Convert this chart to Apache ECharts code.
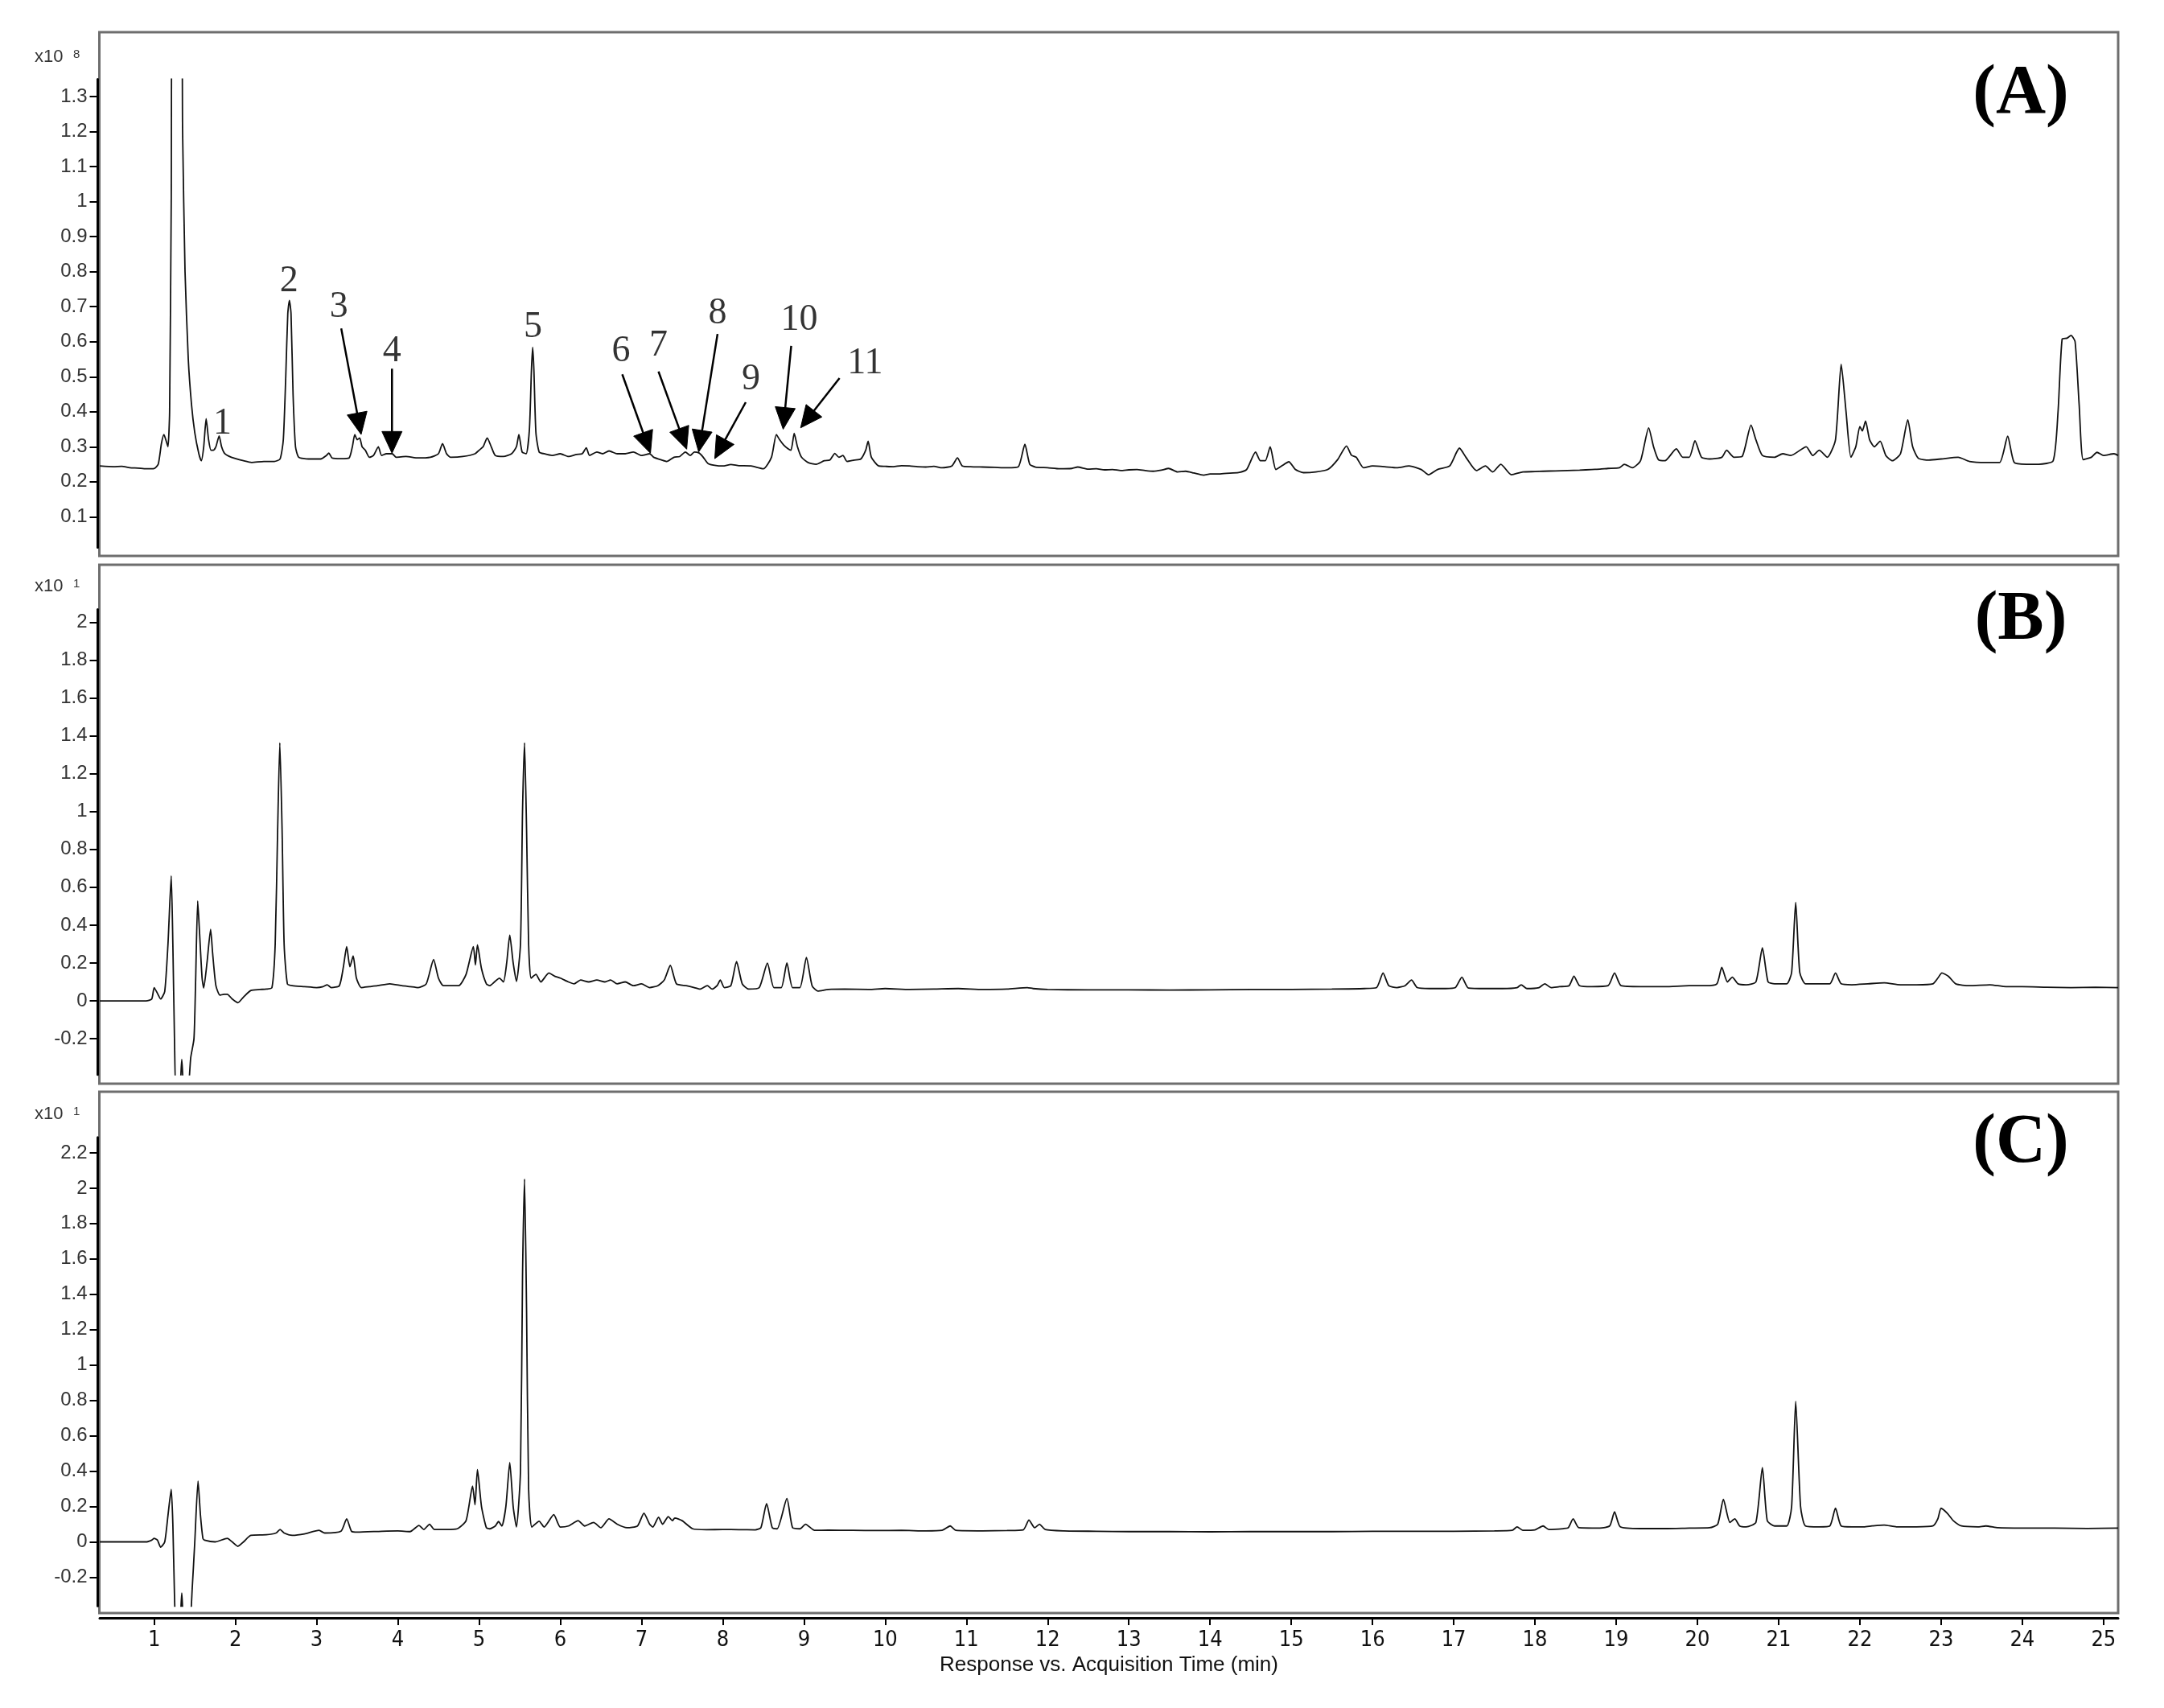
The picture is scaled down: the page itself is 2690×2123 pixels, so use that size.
<!DOCTYPE html>
<html><head><meta charset="utf-8">
<script src="https://cdn.jsdelivr.net/npm/echarts@6/dist/echarts.min.js"></script>
<style>html,body{margin:0;padding:0;background:#fff}#c{width:2690px;height:2123px}</style>
</head><body><div id="c"></div>
<script>
// ---------- data (time in min, response in axis units) ----------
const xTicks = [1,2,3,4,5,6,7,8,9,10,11,12,13,14,15,16,17,18,19,20,21,22,23,24,25];
const ticksA = [0.1,0.2,0.3,0.4,0.5,0.6,0.7,0.8,0.9,1,1.1,1.2,1.3];
const ticksB = [-0.2,0,0.2,0.4,0.6,0.8,1,1.2,1.4,1.6,1.8,2];
const ticksC = [-0.2,0,0.2,0.4,0.6,0.8,1,1.2,1.4,1.6,1.8,2,2.2];
const panelNames = ['(A)','(B)','(C)'];
const unitExp = ['8','1','1'];

const traceA = [[0.33,0.245],[0.5,0.243],[0.6,0.244],[0.7,0.24],[0.8,0.239],[0.9,0.237],[1.0,0.238],[1.05,0.25],[1.09,0.31],[1.12,0.335],[1.15,0.315],[1.17,0.30],[1.19,0.40],[1.21,1.0],[1.225,1.6],[1.33,1.6],[1.35,1.2],[1.38,0.8],[1.42,0.55],[1.46,0.42],[1.50,0.34],[1.55,0.28],[1.58,0.26],[1.61,0.30],[1.64,0.38],[1.67,0.32],[1.70,0.29],[1.73,0.29],[1.76,0.30],[1.80,0.331],[1.83,0.30],[1.87,0.28],[1.95,0.27],[2.1,0.26],[2.2,0.255],[2.35,0.258],[2.48,0.258],[2.55,0.265],[2.59,0.32],[2.62,0.50],[2.645,0.68],[2.665,0.718],[2.685,0.68],[2.71,0.45],[2.74,0.30],[2.78,0.27],[2.9,0.265],[3.05,0.265],[3.12,0.275],[3.15,0.282],[3.19,0.268],[3.3,0.266],[3.4,0.268],[3.44,0.30],[3.47,0.335],[3.50,0.32],[3.53,0.325],[3.56,0.30],[3.60,0.29],[3.65,0.27],[3.70,0.275],[3.76,0.30],[3.80,0.275],[3.86,0.28],[3.93,0.28],[3.98,0.27],[4.1,0.272],[4.25,0.268],[4.4,0.27],[4.5,0.28],[4.55,0.309],[4.60,0.28],[4.65,0.27],[4.8,0.272],[4.95,0.28],[5.0,0.29],[5.05,0.30],[5.1,0.325],[5.15,0.30],[5.2,0.275],[5.3,0.272],[5.4,0.28],[5.46,0.30],[5.49,0.335],[5.53,0.285],[5.58,0.28],[5.62,0.35],[5.645,0.52],[5.66,0.584],[5.675,0.52],[5.70,0.34],[5.74,0.285],[5.8,0.28],[5.9,0.275],[6.0,0.28],[6.1,0.272],[6.2,0.278],[6.27,0.28],[6.32,0.297],[6.36,0.275],[6.45,0.285],[6.52,0.28],[6.6,0.288],[6.7,0.28],[6.8,0.28],[6.9,0.285],[7.0,0.275],[7.1,0.28],[7.15,0.27],[7.25,0.262],[7.31,0.258],[7.4,0.27],[7.47,0.272],[7.54,0.285],[7.6,0.275],[7.65,0.285],[7.71,0.282],[7.76,0.27],[7.82,0.252],[7.9,0.247],[8.0,0.245],[8.1,0.249],[8.2,0.246],[8.35,0.245],[8.5,0.237],[8.6,0.27],[8.66,0.335],[8.70,0.32],[8.75,0.305],[8.80,0.295],[8.84,0.29],[8.88,0.338],[8.92,0.30],[8.97,0.27],[9.05,0.255],[9.15,0.25],[9.25,0.26],[9.32,0.262],[9.38,0.281],[9.43,0.27],[9.48,0.275],[9.53,0.258],[9.62,0.262],[9.7,0.265],[9.76,0.29],[9.79,0.316],[9.83,0.27],[9.92,0.245],[10.0,0.244],[10.1,0.243],[10.2,0.246],[10.3,0.245],[10.4,0.243],[10.5,0.242],[10.6,0.244],[10.7,0.24],[10.82,0.245],[10.89,0.268],[10.95,0.245],[11.05,0.243],[11.2,0.242],[11.35,0.241],[11.5,0.24],[11.64,0.243],[11.72,0.307],[11.78,0.25],[11.85,0.242],[12.0,0.24],[12.15,0.237],[12.3,0.238],[12.37,0.242],[12.5,0.236],[12.6,0.237],[12.7,0.234],[12.8,0.235],[12.9,0.232],[13.0,0.234],[13.1,0.235],[13.2,0.232],[13.3,0.23],[13.4,0.233],[13.49,0.238],[13.6,0.228],[13.7,0.23],[13.8,0.225],[13.92,0.219],[14.0,0.222],[14.1,0.222],[14.2,0.224],[14.35,0.226],[14.45,0.235],[14.56,0.285],[14.62,0.26],[14.68,0.26],[14.74,0.30],[14.81,0.235],[14.88,0.245],[14.97,0.257],[15.05,0.235],[15.15,0.226],[15.3,0.228],[15.45,0.235],[15.57,0.263],[15.68,0.302],[15.74,0.276],[15.8,0.27],[15.89,0.24],[16.0,0.245],[16.15,0.243],[16.3,0.24],[16.45,0.245],[16.6,0.235],[16.69,0.22],[16.8,0.235],[16.95,0.245],[17.07,0.296],[17.15,0.27],[17.28,0.232],[17.39,0.245],[17.48,0.228],[17.58,0.25],[17.71,0.22],[17.85,0.228],[18.0,0.229],[18.1,0.23],[18.25,0.231],[18.4,0.232],[18.55,0.233],[18.7,0.235],[18.8,0.236],[18.9,0.238],[19.04,0.24],[19.1,0.25],[19.2,0.24],[19.3,0.26],[19.4,0.354],[19.46,0.30],[19.52,0.263],[19.6,0.26],[19.74,0.294],[19.82,0.27],[19.9,0.27],[19.97,0.317],[20.05,0.27],[20.15,0.265],[20.3,0.27],[20.36,0.29],[20.45,0.27],[20.55,0.272],[20.66,0.362],[20.72,0.32],[20.8,0.275],[20.95,0.27],[21.05,0.28],[21.15,0.275],[21.34,0.30],[21.42,0.275],[21.5,0.29],[21.6,0.27],[21.7,0.32],[21.77,0.536],[21.83,0.40],[21.89,0.27],[21.95,0.30],[22.0,0.358],[22.03,0.345],[22.07,0.373],[22.12,0.32],[22.18,0.30],[22.25,0.316],[22.32,0.275],[22.4,0.26],[22.5,0.28],[22.59,0.377],[22.65,0.30],[22.72,0.267],[22.85,0.262],[23.0,0.265],[23.21,0.27],[23.35,0.258],[23.55,0.255],[23.72,0.255],[23.82,0.33],[23.9,0.255],[24.05,0.25],[24.2,0.25],[24.38,0.26],[24.44,0.4],[24.49,0.607],[24.55,0.61],[24.6,0.618],[24.65,0.60],[24.7,0.42],[24.75,0.263],[24.85,0.27],[24.92,0.284],[25.0,0.275],[25.13,0.28],[25.18,0.275]];

const traceB = [[0.33,0],[0.9,0],[0.97,0.01],[1.0,0.07],[1.04,0.04],[1.08,0.01],[1.13,0.05],[1.17,0.3],[1.21,0.66],[1.23,0.3],[1.25,-0.2],[1.27,-0.5],[1.31,-0.5],[1.34,-0.31],[1.37,-0.5],[1.41,-0.5],[1.45,-0.3],[1.49,-0.2],[1.51,0.1],[1.536,0.527],[1.56,0.35],[1.59,0.12],[1.61,0.068],[1.65,0.2],[1.695,0.378],[1.72,0.25],[1.76,0.08],[1.81,0.03],[1.86,0.035],[1.9,0.035],[1.96,0.01],[2.03,-0.01],[2.1,0.02],[2.19,0.055],[2.3,0.06],[2.38,0.062],[2.45,0.07],[2.49,0.3],[2.52,0.9],[2.547,1.363],[2.575,0.9],[2.6,0.3],[2.64,0.09],[2.7,0.08],[2.85,0.075],[3.0,0.07],[3.08,0.075],[3.13,0.085],[3.18,0.07],[3.28,0.08],[3.33,0.18],[3.37,0.286],[3.41,0.18],[3.45,0.237],[3.49,0.12],[3.55,0.07],[3.65,0.075],[3.75,0.08],[3.9,0.09],[4.05,0.08],[4.15,0.075],[4.25,0.07],[4.35,0.09],[4.44,0.218],[4.5,0.12],[4.56,0.08],[4.65,0.08],[4.75,0.08],[4.84,0.14],[4.93,0.286],[4.955,0.19],[4.98,0.296],[5.03,0.17],[5.09,0.09],[5.13,0.08],[5.19,0.1],[5.25,0.12],[5.3,0.1],[5.34,0.2],[5.378,0.347],[5.42,0.2],[5.46,0.103],[5.51,0.3],[5.535,1.0],[5.56,1.363],[5.585,0.9],[5.61,0.3],[5.64,0.12],[5.7,0.14],[5.76,0.1],[5.86,0.147],[5.93,0.13],[6.0,0.12],[6.1,0.1],[6.17,0.09],[6.25,0.11],[6.35,0.1],[6.45,0.11],[6.55,0.1],[6.62,0.11],[6.7,0.09],[6.8,0.1],[6.9,0.08],[7.0,0.09],[7.1,0.07],[7.2,0.08],[7.28,0.11],[7.355,0.187],[7.43,0.09],[7.55,0.08],[7.65,0.07],[7.72,0.062],[7.81,0.08],[7.87,0.062],[7.93,0.08],[7.97,0.11],[8.02,0.07],[8.1,0.08],[8.17,0.208],[8.24,0.09],[8.32,0.062],[8.45,0.07],[8.55,0.199],[8.63,0.07],[8.72,0.07],[8.79,0.2],[8.86,0.07],[8.95,0.07],[9.03,0.229],[9.1,0.08],[9.17,0.052],[9.3,0.06],[9.5,0.062],[9.8,0.06],[10.0,0.065],[10.3,0.06],[10.6,0.062],[10.9,0.065],[11.2,0.06],[11.5,0.062],[11.75,0.07],[11.82,0.065],[12.0,0.06],[12.5,0.058],[13.0,0.058],[13.5,0.057],[14.0,0.058],[14.5,0.06],[15.0,0.06],[15.5,0.062],[15.9,0.065],[16.05,0.07],[16.13,0.147],[16.2,0.08],[16.3,0.07],[16.4,0.08],[16.48,0.11],[16.55,0.07],[16.7,0.065],[16.9,0.065],[17.02,0.07],[17.1,0.125],[17.18,0.068],[17.4,0.065],[17.6,0.065],[17.78,0.07],[17.83,0.085],[17.9,0.065],[18.05,0.07],[18.12,0.09],[18.2,0.07],[18.3,0.075],[18.42,0.08],[18.48,0.13],[18.55,0.08],[18.7,0.075],[18.9,0.08],[18.98,0.147],[19.06,0.08],[19.3,0.075],[19.6,0.075],[19.9,0.08],[20.1,0.08],[20.24,0.09],[20.3,0.177],[20.37,0.1],[20.43,0.125],[20.5,0.09],[20.6,0.085],[20.72,0.1],[20.8,0.28],[20.87,0.1],[20.95,0.09],[21.1,0.09],[21.16,0.15],[21.21,0.52],[21.26,0.15],[21.33,0.09],[21.5,0.09],[21.63,0.09],[21.7,0.147],[21.77,0.09],[21.9,0.085],[22.1,0.09],[22.3,0.095],[22.5,0.085],[22.7,0.085],[22.9,0.09],[22.96,0.12],[23.01,0.147],[23.09,0.13],[23.18,0.09],[23.35,0.08],[23.6,0.085],[23.8,0.075],[24.0,0.075],[24.3,0.072],[24.6,0.07],[24.9,0.072],[25.18,0.07]];

const traceC = [[0.33,0],[0.9,0],[0.97,0.01],[1.0,0.02],[1.04,0.01],[1.08,-0.03],[1.13,0.0],[1.17,0.15],[1.21,0.297],[1.23,0.1],[1.25,-0.3],[1.27,-0.5],[1.31,-0.5],[1.34,-0.29],[1.37,-0.5],[1.43,-0.5],[1.47,-0.25],[1.5,0.0],[1.54,0.344],[1.57,0.15],[1.6,0.02],[1.62,0.01],[1.75,0.0],[1.9,0.02],[1.96,0.0],[2.03,-0.025],[2.1,0.0],[2.19,0.037],[2.38,0.04],[2.5,0.05],[2.55,0.07],[2.6,0.05],[2.7,0.037],[2.85,0.045],[3.03,0.065],[3.1,0.05],[3.3,0.06],[3.37,0.13],[3.43,0.06],[3.5,0.055],[3.8,0.06],[4.0,0.062],[4.15,0.058],[4.26,0.093],[4.32,0.07],[4.39,0.1],[4.45,0.07],[4.6,0.07],[4.73,0.074],[4.84,0.12],[4.92,0.316],[4.95,0.21],[4.98,0.409],[5.03,0.2],[5.09,0.08],[5.13,0.074],[5.2,0.09],[5.24,0.115],[5.28,0.09],[5.33,0.2],[5.378,0.449],[5.42,0.2],[5.46,0.084],[5.51,0.4],[5.535,1.5],[5.56,2.052],[5.585,1.3],[5.61,0.3],[5.65,0.084],[5.74,0.117],[5.8,0.084],[5.92,0.154],[6.0,0.084],[6.1,0.09],[6.22,0.12],[6.3,0.09],[6.41,0.11],[6.5,0.08],[6.6,0.13],[6.7,0.1],[6.82,0.08],[6.95,0.09],[7.03,0.162],[7.1,0.1],[7.14,0.084],[7.21,0.139],[7.26,0.1],[7.33,0.143],[7.38,0.12],[7.41,0.135],[7.5,0.12],[7.63,0.074],[7.8,0.069],[8.0,0.07],[8.2,0.069],[8.4,0.068],[8.47,0.08],[8.54,0.217],[8.61,0.08],[8.67,0.074],[8.79,0.245],[8.86,0.08],[8.95,0.074],[9.02,0.1],[9.13,0.065],[9.3,0.066],[9.6,0.065],[9.9,0.064],[10.2,0.065],[10.5,0.062],[10.7,0.065],[10.8,0.09],[10.87,0.065],[11.2,0.062],[11.5,0.064],[11.7,0.068],[11.77,0.123],[11.84,0.08],[11.9,0.1],[11.97,0.07],[12.2,0.062],[12.6,0.06],[13.0,0.058],[13.5,0.058],[14.0,0.057],[14.5,0.058],[15.0,0.058],[15.5,0.058],[16.0,0.06],[16.5,0.06],[17.0,0.06],[17.5,0.062],[17.72,0.065],[17.78,0.085],[17.85,0.065],[18.0,0.068],[18.1,0.09],[18.17,0.07],[18.35,0.075],[18.41,0.08],[18.47,0.13],[18.54,0.08],[18.8,0.078],[18.92,0.09],[18.98,0.17],[19.05,0.085],[19.3,0.075],[19.6,0.075],[19.9,0.078],[20.15,0.08],[20.25,0.1],[20.32,0.24],[20.4,0.11],[20.46,0.13],[20.52,0.09],[20.6,0.085],[20.72,0.11],[20.8,0.42],[20.86,0.12],[20.95,0.09],[21.1,0.09],[21.16,0.2],[21.21,0.795],[21.27,0.2],[21.33,0.09],[21.5,0.085],[21.63,0.09],[21.7,0.19],[21.77,0.09],[21.9,0.085],[22.05,0.085],[22.15,0.09],[22.3,0.095],[22.45,0.085],[22.7,0.085],[22.9,0.09],[22.96,0.13],[23.0,0.19],[23.08,0.16],[23.15,0.12],[23.25,0.09],[23.45,0.085],[23.55,0.09],[23.7,0.08],[24.0,0.078],[24.4,0.078],[24.8,0.076],[25.18,0.078]];

// peak annotations in panel A: label text, label position, arrow (tail -> tip)
const annText = ['1','2','3','4','5','6','7','8','9','10','11'];
const annPos = [[1.841,0.366],[2.66,0.772],[3.275,0.699],[3.928,0.5725],[5.663,0.641],[6.747,0.5725],[7.209,0.588],[7.936,0.680],[8.348,0.492],[8.943,0.661],[9.752,0.538]];
const annArrows = [
  [[3.303,0.638],[3.548,0.335]],
  [[3.928,0.523],[3.928,0.2815]],
  [[6.763,0.507],[7.110,0.2815]],
  [[7.209,0.515],[7.556,0.293]],
  [[7.936,0.622],[7.704,0.285]],
  [[8.283,0.427],[7.902,0.266]],
  [[8.843,0.588],[8.744,0.350]],
  [[9.438,0.496],[8.959,0.354]]
];

// ---------- layout ----------
const X_MIN = 0.33, X_MAX = 25.18;
const GL = 124, GR = 57;
const grids = [
  {left: GL, right: GR, top: 98.4, height: 582.2},
  {left: GL, right: GR, top: 757.4, height: 578.4},
  {left: GL, right: GR, top: 1413.8, height: 582.5}
];
const yRanges = [[0.012,1.35],[-0.39,2.068],[-0.363,2.287]];
const yTicks = [ticksA, ticksB, ticksC];
const boxes = [[40,691],[702,1347],[1357,2005]];
const unitY = [82,740,1396];
const labelY = [118,772,1422];

const SANS = "'Liberation Sans', Arial, sans-serif";
const NARROW = "'Liberation Sans Narrow', 'Arial Narrow', 'DejaVu Sans Condensed', sans-serif";
const SERIF = "'Liberation Serif', 'Times New Roman', serif";

const chart = echarts.init(document.getElementById('c'), null, {renderer: 'canvas'});

const xAxes = grids.map((g, i) => ({
  type: 'value', gridIndex: i, min: X_MIN, max: X_MAX,
  show: i === 2,
  offset: 14.7,
  axisLine: {show: true, onZero: false, lineStyle: {color: '#000', width: 3}},
  axisTick: {show: true, length: 9, customValues: xTicks, lineStyle: {color: '#000', width: 2}},
  axisLabel: {show: true, customValues: xTicks, margin: 14, fontSize: 27, fontFamily: NARROW, color: '#111'},
  splitLine: {show: false},
  name: i === 2 ? 'Response vs. Acquisition Time (min)' : '',
  nameLocation: 'middle', nameGap: 46,
  nameTextStyle: {fontSize: 26, fontFamily: SANS, color: '#111'}
}));

const yAxes = grids.map((g, i) => ({
  type: 'value', gridIndex: i, min: yRanges[i][0], max: yRanges[i][1],
  offset: 2.5,
  axisLine: {show: true, onZero: false, lineStyle: {color: '#000', width: 3}},
  axisTick: {show: true, length: 10, customValues: yTicks[i], lineStyle: {color: '#000', width: 2}},
  axisLabel: {show: true, customValues: yTicks[i], margin: 13, fontSize: 24, fontFamily: SANS, color: '#333'},
  splitLine: {show: false}
}));

const lineSeries = [traceA, traceB, traceC].map((tr, i) => ({
  type: 'line', xAxisIndex: i, yAxisIndex: i, data: tr,
  symbol: 'none', showSymbol: false, clip: true, smooth: 0.2,
  lineStyle: {color: '#111', width: 1.8}, silent: true
}));

const labelSeries = {
  type: 'scatter', xAxisIndex: 0, yAxisIndex: 0, silent: true,
  symbolSize: 1, itemStyle: {color: 'rgba(0,0,0,0)'},
  data: annPos.map((p, k) => [p[0], p[1], annText[k]]),
  label: {show: true, position: 'inside', formatter: p => p.data[2],
    fontSize: 46, fontFamily: SERIF, color: '#000'}
};

const graphics = [];
boxes.forEach((b, i) => {
  graphics.push({type: 'rect', z: 0, silent: true,
    shape: {x: 123.5, y: b[0], width: 2633 - 123.5, height: b[1] - b[0]},
    style: {fill: 'none', stroke: '#6e6e6e', lineWidth: 3}});
  graphics.push({type: 'text', z: 10, silent: true,
    style: {text: 'x10', x: 43, y: unitY[i], align: 'left', verticalAlign: 'bottom',
      textAlign: 'left', textVerticalAlign: 'bottom',
      font: "22px 'Liberation Sans', Arial, sans-serif", fill: '#333'}});
  graphics.push({type: 'text', z: 10, silent: true,
    style: {text: unitExp[i], x: 91, y: unitY[i] - 7, align: 'left', verticalAlign: 'bottom',
      textAlign: 'left', textVerticalAlign: 'bottom',
      font: "15px 'Liberation Sans', Arial, sans-serif", fill: '#333'}});
  graphics.push({type: 'text', z: 10, silent: true,
    style: {text: panelNames[i], x: 2512, y: labelY[i], align: 'center', verticalAlign: 'middle',
      textAlign: 'center', textVerticalAlign: 'middle',
      font: "bold 86px 'Liberation Serif', 'Times New Roman', serif", fill: '#000'}});
});

chart.setOption({
  animation: false,
  backgroundColor: '#fff',
  grid: grids.map(g => Object.assign({containLabel: false, outerBoundsMode: 'none', show: false}, g)),
  xAxis: xAxes,
  yAxis: yAxes,
  series: lineSeries.concat([labelSeries]),
  graphic: graphics
});

// arrows: data-space endpoints converted through the chart's own scales
const HEAD_L = 27, HEAD_W = 12.5;
const arrowGraphics = [];
annArrows.forEach(a => {
  const p0 = chart.convertToPixel({gridIndex: 0}, a[0]);
  const p1 = chart.convertToPixel({gridIndex: 0}, a[1]);
  const dx = p1[0] - p0[0], dy = p1[1] - p0[1];
  const len = Math.sqrt(dx * dx + dy * dy);
  const ux = dx / len, uy = dy / len;
  const bx = p1[0] - ux * HEAD_L, by = p1[1] - uy * HEAD_L;
  arrowGraphics.push({type: 'line', z: 20, silent: true,
    shape: {x1: p0[0], y1: p0[1], x2: bx + ux * 2, y2: by + uy * 2},
    style: {stroke: '#000', lineWidth: 2.5}});
  arrowGraphics.push({type: 'polygon', z: 20, silent: true,
    shape: {points: [[p1[0], p1[1]], [bx - uy * HEAD_W, by + ux * HEAD_W], [bx + uy * HEAD_W, by - ux * HEAD_W]]},
    style: {fill: '#000', stroke: '#000', lineWidth: 1}});
});
chart.setOption({graphic: graphics.concat(arrowGraphics)});
</script></body></html>
